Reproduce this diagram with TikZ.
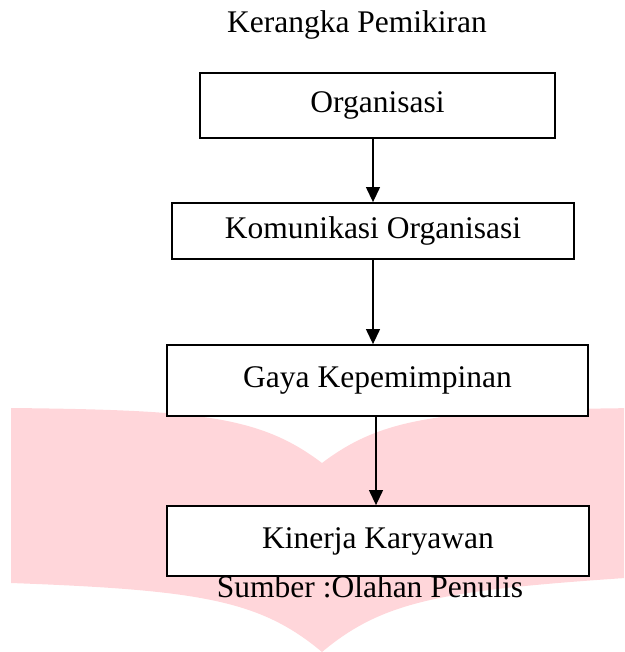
\documentclass[tikz,border=0pt]{standalone}
\usepackage{fontspec}
\setmainfont{Liberation Serif}
\usetikzlibrary{arrows.meta}
\definecolor{pinkbuku}{RGB}{255,214,218}

\begin{document}
\begin{tikzpicture}[x=1pt,y=-1pt,line join=miter,>=Triangle,
    font=\fontsize{31.5}{36}\selectfont,
    kotak/.style={draw,rectangle,line width=1.8pt,fill=white,inner sep=0pt},
    panah/.style={-{Triangle[length=15pt,width=14pt]},line width=1.2pt}]
    \useasboundingbox (0,0) rectangle (624,652);
    % Tanda air (buku terbuka, merah muda)
    \begin{scope}
        \clip (0,0) rectangle (624,652);
        \fill[pinkbuku] (11,408) .. controls (200,410) and (260,416) .. (322,463)
            .. controls (384,416) and (444,410) .. (640,408) -- (640,577)
            .. controls (444,590) and (384,600) .. (322,652)
            .. controls (260,600) and (200,590) .. (11,583) -- cycle;
    \end{scope}
    % Judul
    \node[anchor=base] (judul) at (357,33) {Kerangka Pemikiran};
    % Kotak-kotak alur
    \node[kotak, minimum width=355pt, minimum height=65pt] (org) at (377.5,105.5) {Organisasi};
    \node[kotak, minimum width=402pt, minimum height=56pt] (kom) at (373,231) {Komunikasi Organisasi};
    \node[kotak, minimum width=421pt, minimum height=71pt] (gaya) at (377.5,380.5) {Gaya Kepemimpinan};
    \node[kotak, minimum width=422pt, minimum height=70pt] (kinerja) at (378,541) {Kinerja Karyawan};
    % Sumber
    \node[anchor=base] (sumber) at (370,597) {Sumber :Olahan Penulis};
    % Panah
    \draw[panah] (org.south -| kom.north) -- (kom.north);
    \draw[panah] (kom.south) -- (kom.south |- gaya.north);
    \draw[panah] (gaya.south -| 376,0) -- (kinerja.north -| 376,0);
\end{tikzpicture}
\end{document}
